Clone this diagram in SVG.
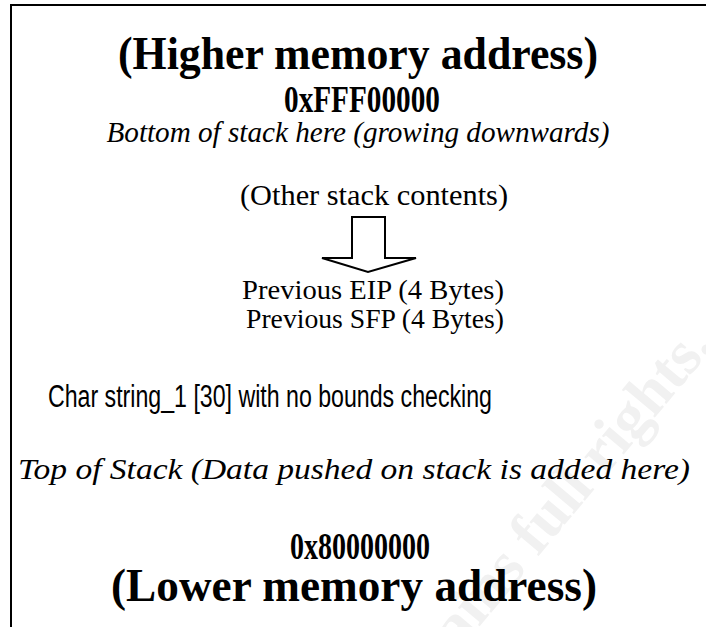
<svg xmlns="http://www.w3.org/2000/svg" width="706" height="627" viewBox="0 0 706 627">
  <style>
    .title { font-family: "Liberation Serif", "Times New Roman", serif; font-weight: bold; fill: #000; text-anchor: middle; }
    .serif { font-family: "Liberation Serif", "Times New Roman", serif; fill: #000; text-anchor: middle; }
    .ital { font-family: "Liberation Serif", "Times New Roman", serif; font-style: italic; fill: #000; text-anchor: middle; }
    .sans { font-family: "Liberation Sans", Arial, sans-serif; fill: #000; text-anchor: middle; }
    .mark { font-family: "Liberation Serif", "Times New Roman", serif; font-weight: bold; fill: #f1f1f1; }
    .frame { fill: none; stroke: #000; stroke-width: 2; }
    .arrow { fill: #fff; stroke: #000; stroke-width: 2; stroke-linejoin: miter; }
  </style>
  <rect width="706" height="627" fill="#fff"/>

  <!-- faint copyright stamp -->
  <text class="mark" x="411" y="708" font-size="62" transform="rotate(-50 411 708)">retains full rights.</text>

  <!-- frame (continues past the right and bottom edges) -->
  <path class="frame" d="M11,627 V5 H706"/>

  <g id="high-address">
    <text class="title" x="358" y="69" font-size="46" textLength="480" lengthAdjust="spacingAndGlyphs">(Higher memory address)</text>
    <text class="title" x="362" y="112" font-size="38" textLength="156" lengthAdjust="spacingAndGlyphs">0xFFF00000</text>
    <text class="ital" x="358" y="142" font-size="29" textLength="503" lengthAdjust="spacingAndGlyphs">Bottom of stack here (growing downwards)</text>
  </g>

  <g id="other-contents">
    <text class="serif" x="374" y="205" font-size="29" textLength="268" lengthAdjust="spacingAndGlyphs">(Other stack contents)</text>
  </g>

  <g id="connectors">
    <polygon class="arrow" points="352,217 385,217 385,258 416,258 368,272 322,258 352,258"/>
  </g>

  <g id="saved-registers">
    <text class="serif" x="373" y="299" font-size="28" textLength="262" lengthAdjust="spacingAndGlyphs">Previous EIP (4 Bytes)</text>
    <text class="serif" x="375" y="328" font-size="28" textLength="258" lengthAdjust="spacingAndGlyphs">Previous SFP (4 Bytes)</text>
  </g>

  <g id="buffer">
    <text class="sans" x="270" y="407" font-size="31" textLength="444" lengthAdjust="spacingAndGlyphs">Char string_1 [30] with no bounds checking</text>
  </g>

  <g id="stack-top">
    <text class="ital" x="354" y="479" font-size="29" textLength="672" lengthAdjust="spacingAndGlyphs">Top of Stack (Data pushed on stack is added here)</text>
  </g>

  <g id="low-address">
    <text class="title" x="360" y="559" font-size="38" textLength="140" lengthAdjust="spacingAndGlyphs">0x80000000</text>
    <text class="title" x="354" y="601" font-size="46" textLength="486" lengthAdjust="spacingAndGlyphs">(Lower memory address)</text>
  </g>
</svg>
